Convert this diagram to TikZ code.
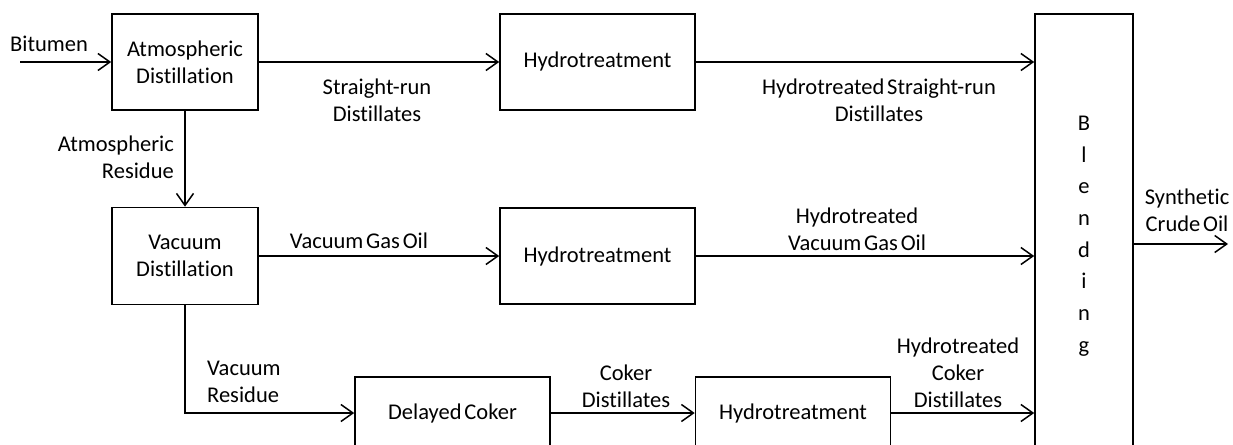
\documentclass[tikz,border=0pt]{standalone}
\usepackage{fontspec}
\setmainfont{Carlito}[Ligatures=NoCommon,WordSpace=0.55]
\usetikzlibrary{arrows.meta}
\begin{document}
\begin{tikzpicture}[x=1pt,y=-1pt,
  box/.style={draw,line width=1.6pt,rectangle,inner sep=0pt,align=center,font=\fontsize{22.5}{27}\selectfont},
  lbl/.style={inner sep=0pt,align=center,font=\fontsize{22.5}{27}\selectfont},
  flow/.style={line width=1.5pt,-{Straight Barb[length=12pt,width=17pt,line width=1.5pt]}}]
\useasboundingbox (0,0) rectangle (1233,444);
\clip (0,0) rectangle (1233,444);
% process boxes
\node[box,minimum width=146pt,minimum height=96pt] (ad) at (185,62) {Atmospheric\\Distillation};
\node[box,minimum width=195pt,minimum height=96pt] (ht1) at (597.5,62) {Hydrotreatment};
\node[box,minimum width=146pt,minimum height=97pt] (vd) at (185,256) {Vacuum\\Distillation};
\node[box,minimum width=195pt,minimum height=96pt] (ht2) at (597.5,256) {Hydrotreatment};
\node[box,minimum width=195pt,minimum height=72pt] (dc) at (452.5,413) {Delayed Coker};
\node[box,minimum width=195pt,minimum height=72pt] (ht3) at (793,413) {Hydrotreatment};
\node[box,minimum width=98pt,minimum height=444pt,font=\fontsize{22.5}{31.7}\selectfont] (bl) at (1084,236) {B\\l\\e\\n\\d\\i\\n\\g};
% free ends
\coordinate (bit) at (20,62);
\coordinate (out) at (1228,244);
% connectors
\draw[flow] (bit) -- (ad.west);
\draw[flow] (ad) -- (ht1);
\draw[flow] (ht1) -- (ht1 -| bl.west);
\draw[flow] (ad) -- (vd);
\draw[flow] (vd) -- (ht2);
\draw[flow] (ht2) -- (ht2 -| bl.west);
\draw[flow] (vd.south) |- (dc.west);
\draw[flow] (dc) -- (ht3);
\draw[flow] (ht3) -- (ht3 -| bl.west);
\draw[flow] (bl.east |- out) -- (out);
% labels
\node[lbl] (lbit) at (49,44) {Bitumen};
\node[lbl] (lsrd) at (377,100) {Straight-run\\Distillates};
\node[lbl,align=right,anchor=east] (lar) at (174,157) {Atmospheric\\Residue};
\node[lbl] (lvgo) at (359,241) {Vacuum Gas Oil};
\node[lbl,align=left,anchor=west] (lvr) at (207,382) {Vacuum\\Residue};
\node[lbl] (lhsrd) at (879,100) {Hydrotreated Straight-run\\Distillates};
\node[lbl] (lhvgo) at (857,229) {Hydrotreated\\Vacuum Gas Oil};
\node[lbl] (lcd) at (626,386) {Coker\\Distillates};
\node[lbl] (lhcd) at (958,373) {Hydrotreated\\Coker\\Distillates};
\node[lbl] (lsco) at (1187,210) {Synthetic\\Crude Oil};
\end{tikzpicture}
\end{document}
